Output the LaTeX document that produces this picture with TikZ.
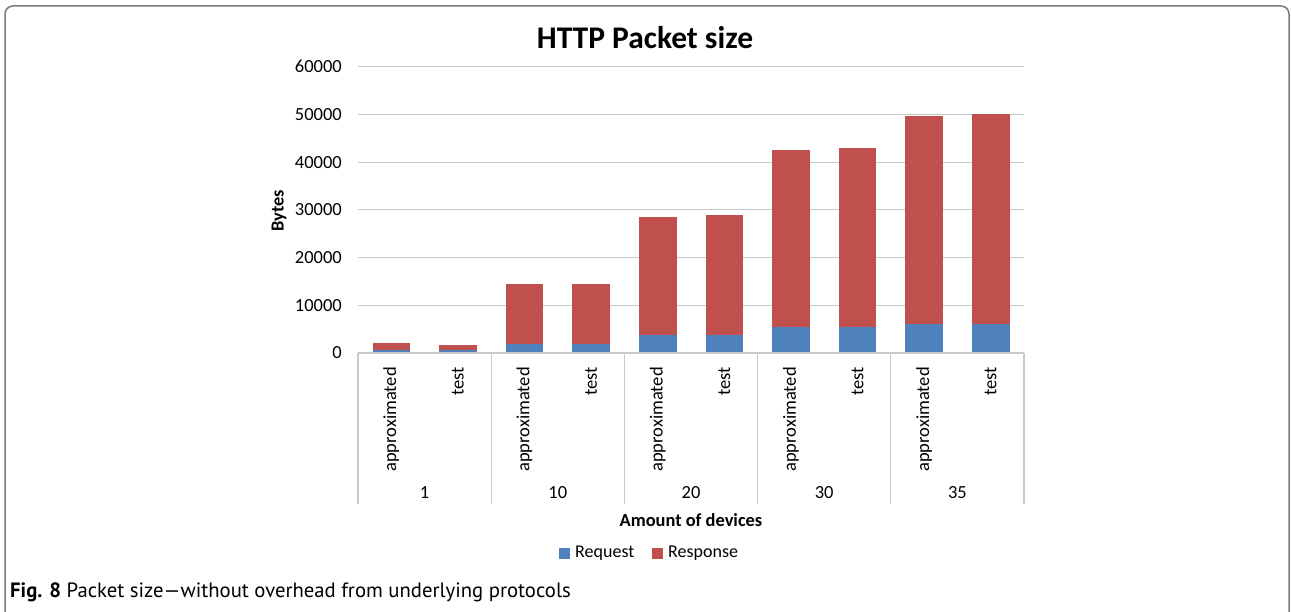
\documentclass[tikz,border=0pt]{standalone}
\usepackage{fontspec}
\setmainfont{Carlito}
\newfontfamily\capfont[Ligatures=TeX]{PT Sans}
\definecolor{reqblue}{HTML}{4F81BD}
\definecolor{resred}{HTML}{C0504D}
\definecolor{gridgray}{HTML}{C8C8C8}
\definecolor{framegray}{HTML}{7A7A7A}
\tikzset{
  x=1pt, y=-1pt,
  grid/.style={draw=gridgray, line width=1.2pt},
  reqbar/.style={fill=reqblue},
  resbar/.style={fill=resred},
  ticklabel/.style={anchor=east, inner sep=0pt, font=\fontsize{18.5}{20}\selectfont},
  catlabel/.style={rotate=90, anchor=east, inner sep=0pt, font=\fontsize{18.5}{20}\selectfont},
  grouplabel/.style={anchor=center, inner sep=0pt, font=\fontsize{18.5}{20}\selectfont},
  axistitle/.style={inner sep=0pt, font=\fontsize{18.4}{20}\selectfont\bfseries},
  legtext/.style={anchor=west, inner sep=0pt, font=\fontsize{18}{20}\selectfont},
}
\begin{document}
\begin{tikzpicture}
\clip (0,0) rectangle (1291,612);
\fill[white] (0,0) rectangle (1291,612);
% outer frame, open at the bottom
\draw[framegray, line width=1.5pt, rounded corners=8pt] (5,700) -- (5,6) -- (1289,6) -- (1289,700);

% title
\node[inner sep=0pt, font=\fontsize{31.5}{33}\selectfont\bfseries] (title) at (645,38) {HTTP Packet size};

% horizontal gridlines and value labels
\foreach \v in {1,...,6} {
  \pgfmathsetmacro\yy{353-47.7*\v}
  \draw[grid] (358,\yy) -- (1024,\yy);
}
\foreach \v/\lab in {0/0, 1/10000, 2/20000, 3/30000, 4/40000, 5/50000, 6/60000} {
  \pgfmathsetmacro\yy{353-47.7*\v}
  \node[ticklabel] (tick\v) at (342,\yy) {\lab};
}

% stacked bars: index / request / total (in hundreds of bytes)
\foreach \i/\req/\tot in {0/6/20, 1/6/17, 2/19.5/145, 3/19.5/145,
                           4/37/285, 5/37/290, 6/54/426, 7/54/430,
                           8/60/497, 9/60/501} {
  \pgfmathsetmacro\cx{358+66.6*(\i+0.5)}
  \pgfmathsetmacro\yr{353-0.477*\req}
  \pgfmathsetmacro\yt{353-0.477*\tot}
  \fill[reqbar] ({\cx-18.8},353) rectangle ({\cx+18.8},\yr);
  \fill[resbar] ({\cx-18.8},\yr) rectangle ({\cx+18.8},\yt);
}

% category axis
\draw[grid] (358,353) -- (1024,353);
\foreach \k in {0,...,5} {
  \pgfmathsetmacro\gx{358+133.2*\k}
  \draw[grid] (\gx,353) -- (\gx,504);
}
\foreach \k/\g in {0/1, 1/10, 2/20, 3/30, 4/35} {
  \pgfmathsetmacro\ax{358+133.2*\k+33.3}
  \pgfmathsetmacro\tx{358+133.2*\k+99.9}
  \pgfmathsetmacro\gc{358+133.2*\k+66.6}
  \node[catlabel] (appr\k) at (\ax,367) {approximated};
  \node[catlabel] (test\k) at (\tx,367) {test};
  \node[grouplabel] (grp\k) at (\gc,493) {\g};
}

% axis titles
\node[axistitle, rotate=90] (ytitle) at (279,211) {Bytes};
\node[axistitle] (xtitle) at (691,520) {Amount of devices};

% legend
\fill[reqbar] (559,548) rectangle (570,559);
\node[legtext] (legreq) at (575,553) {Request};
\fill[resbar] (652,548) rectangle (663,559);
\node[legtext] (legres) at (668,553) {Response};

% caption
\node[anchor=base west, inner sep=0pt, font=\capfont\fontsize{20.7}{22}\selectfont] (caption) at (10,597) {\textbf{Fig. 8} Packet size---without overhead from underlying protocols};
\end{tikzpicture}
\end{document}
